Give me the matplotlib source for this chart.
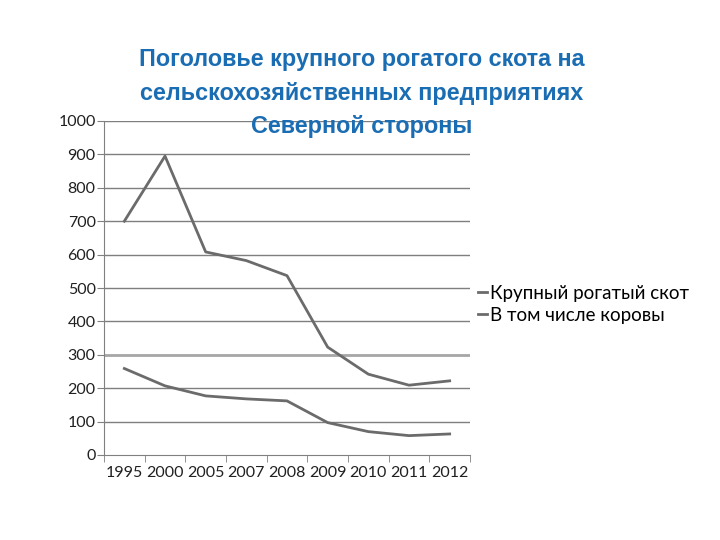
import matplotlib.pyplot as plt

# данные
years = ["1995", "2000", "2005", "2007", "2008", "2009", "2010", "2011", "2012"]
cattle = [700, 895, 608, 582, 537, 323, 242, 209, 222]
cows = [259, 207, 177, 168, 162, 97, 70, 58, 63]
series_names = ["Крупный рогатый скот", "В том числе коровы"]
title = "Поголовье крупного рогатого скота на\nсельскохозяйственных предприятиях\nСеверной стороны"

fig = plt.figure(figsize=(7.2, 5.4), dpi=100)
ax = fig.add_axes([104 / 720, 1 - 455 / 540, 366 / 720, 334 / 540])

x = range(len(years))
ax.plot(x, cattle, color="#6b6b6b", lw=2, label=series_names[0], zorder=3)
ax.plot(x, cows, color="#6b6b6b", lw=2, label=series_names[1], zorder=3)

ax.set_xlim(-0.5, len(years) - 0.5)
ax.set_ylim(0, 1000)
ax.set_yticks(range(0, 1001, 100))
for v in range(100, 1001, 100):
    if v == 300:
        ax.axhline(v, color="#a6a6a6", lw=2, zorder=1)
    else:
        ax.axhline(v, color="#7f7f7f", lw=1, zorder=1)

ax.set_xticks(x)
ax.set_xticklabels(years)
ax.set_xticks([i - 0.5 for i in range(len(years) + 1)], minor=True)
ax.tick_params(axis="x", which="major", length=0, pad=8)
ax.tick_params(axis="x", which="minor", length=5, color="#808080")
ax.tick_params(axis="y", length=5, color="#808080", pad=1)
for lab in ax.get_xticklabels() + ax.get_yticklabels():
    lab.set_fontfamily("Lato")
    lab.set_fontsize(11.5)
    lab.set_color("#202020")

for s in ["top", "right"]:
    ax.spines[s].set_visible(False)
for s in ["left", "bottom"]:
    ax.spines[s].set_color("#808080")

fig.legend(loc="upper left", bbox_to_anchor=(461 / 720, 1 - 268 / 540),
           frameon=False, handlelength=0.5, handletextpad=0.15, labelspacing=0.25,
           prop={"family": "Lato", "size": 13.5})

fig.text(362 / 720, 1 - 93 / 540, title, ha="center", va="center",
         fontsize=16.8, fontweight="bold", color="#1a6db3",
         family="Liberation Sans", linespacing=1.6, zorder=5)

fig.savefig("out.png", dpi=100)
